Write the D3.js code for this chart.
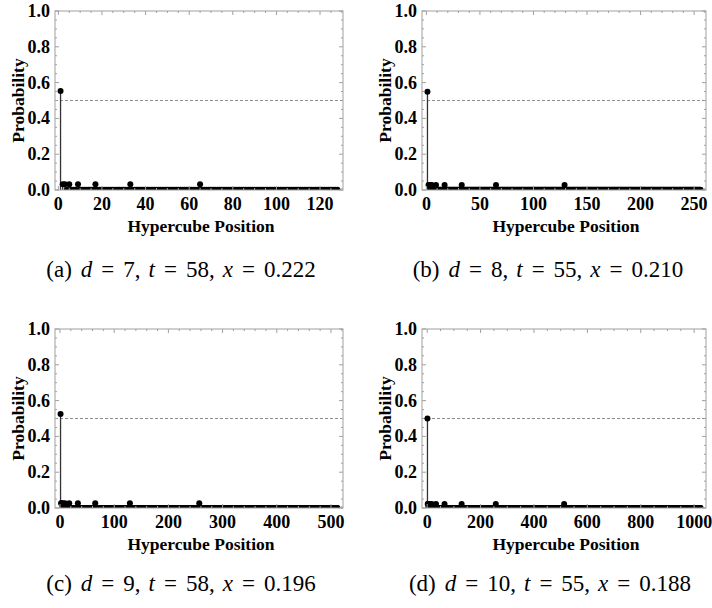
<!DOCTYPE html>
<html>
<head>
<meta charset="utf-8">
<script src="https://cdn.jsdelivr.net/npm/d3@7"></script>
<style>
  body { margin: 0; background: #fff; }
  svg { display: block; }
</style>
</head>
<body>
<div id="chart"></div>
<script>
// hypercube dimension for each panel
const dims = [7, 8, 9, 10];
// positions that stand out (marked vertex + its neighbours), per panel
const peakPositions = [
  [1, 2, 3, 5, 9, 17, 33, 65],
  [1, 2, 3, 5, 9, 17, 33, 65, 129],
  [1, 2, 3, 5, 9, 17, 33, 65, 129, 257],
  [1, 2, 3, 5, 9, 17, 33, 65, 129, 257, 513]
];
const peakValues = [
  [0.553, 0.032, 0.032, 0.032, 0.032, 0.032, 0.032, 0.032],
  [0.549, 0.028, 0.028, 0.028, 0.028, 0.028, 0.028, 0.028, 0.028],
  [0.525, 0.026, 0.026, 0.026, 0.026, 0.026, 0.026, 0.026, 0.026, 0.026],
  [0.500, 0.022, 0.022, 0.022, 0.022, 0.022, 0.022, 0.022, 0.022, 0.022, 0.022]
];
// probability of all other positions (read as almost zero)
const floorValues = [0.002, 0.001, 0.0006, 0.0003];
const xTickStep = [20, 50, 100, 200];
const xMinorStep = [5, 10, 20, 50];
const yTicks = [0, 0.2, 0.4, 0.6, 0.8, 1.0];
const captionLetters = ["a", "b", "c", "d"];
const captionT = [58, 55, 58, 55];
const captionX = ["0.222", "0.210", "0.196", "0.188"];

const width = 712, height = 608;
// frame box of every panel
const frames = [
  {x0: 55, x1: 343, y0: 11, y1: 190},
  {x0: 422, x1: 706, y0: 11, y1: 190},
  {x0: 55, x1: 343, y0: 329, y1: 508},
  {x0: 422, x1: 706, y0: 329, y1: 508}
];
const captionCenters = [181, 548, 181, 550];
const captionBase = [277, 277, 591, 591];

const svg = d3.select("#chart")
  .append("svg")
  .attr("width", width)
  .attr("height", height);

const labelFont = "'Liberation Serif', 'Times New Roman', serif";
const frameColor = "#a0a0a0";

dims.forEach((d, k) => {
  const f = frames[k];
  const n = Math.pow(2, d);
  const pad = 0.02 * (n - 1);

  const x = d3.scaleLinear().domain([1 - pad, n + pad]).range([f.x0, f.x1]);
  const y = d3.scaleLinear().domain([0, 1]).range([f.y1, f.y0]);

  const g = svg.append("g");

  // clip so the near-zero dots get cut by the frame like in mathematica
  g.append("clipPath").attr("id", "clip" + k)
    .append("rect")
    .attr("x", f.x0).attr("y", f.y0)
    .attr("width", f.x1 - f.x0).attr("height", f.y1 - f.y0);

  // dashed line at one half
  g.append("line")
    .attr("x1", f.x0).attr("x2", f.x1)
    .attr("y1", y(0.5)).attr("y2", y(0.5))
    .attr("stroke", "#8c8c8c")
    .attr("stroke-width", 1)
    .attr("stroke-dasharray", "3,2");

  // build the full list of points
  const pts = d3.range(1, n + 1).map(p => {
    const i = peakPositions[k].indexOf(p);
    return {pos: p, prob: i >= 0 ? peakValues[k][i] : floorValues[k]};
  });

  const plot = g.append("g").attr("clip-path", `url(#clip${k})`);

  plot.selectAll(".stem")
    .data(pts)
    .enter()
    .append("line")
    .attr("class", "stem")
    .attr("x1", p => x(p.pos)).attr("x2", p => x(p.pos))
    .attr("y1", y(0)).attr("y2", p => y(p.prob))
    .attr("stroke", "#333")
    .attr("stroke-width", 1.3);

  plot.selectAll(".dot")
    .data(pts)
    .enter()
    .append("circle")
    .attr("class", "dot")
    .attr("cx", p => x(p.pos))
    .attr("cy", p => y(p.prob))
    .attr("r", 3)
    .attr("fill", "#000");

  // frame ticks, inward, on all four sides
  const xMajor = d3.range(0, n + 1, xTickStep[k]);
  const xMinor = d3.range(0, n + pad, xMinorStep[k]).filter(v => x(v) >= f.x0);
  const yMinor = d3.range(0, 1.0001, 0.05);

  const tickG = g.append("g").attr("stroke", frameColor).attr("stroke-width", 1);
  xMinor.forEach(v => {
    const major = xMajor.includes(v);
    const len = major ? 4 : 2;
    tickG.append("line").attr("x1", x(v)).attr("x2", x(v)).attr("y1", f.y1).attr("y2", f.y1 - len);
    tickG.append("line").attr("x1", x(v)).attr("x2", x(v)).attr("y1", f.y0).attr("y2", f.y0 + len);
  });
  yMinor.forEach(v => {
    const major = Math.abs(v * 5 - Math.round(v * 5)) < 1e-6;
    const len = major ? 4 : 2;
    tickG.append("line").attr("x1", f.x0).attr("x2", f.x0 + len).attr("y1", y(v)).attr("y2", y(v));
    tickG.append("line").attr("x1", f.x1).attr("x2", f.x1 - len).attr("y1", y(v)).attr("y2", y(v));
  });

  // frame box
  g.append("rect")
    .attr("x", f.x0).attr("y", f.y0)
    .attr("width", f.x1 - f.x0).attr("height", f.y1 - f.y0)
    .attr("fill", "none")
    .attr("stroke", frameColor)
    .attr("stroke-width", 1);

  // tick labels
  g.selectAll(".xlab")
    .data(xMajor)
    .enter()
    .append("text")
    .attr("x", v => x(v))
    .attr("y", f.y1 + 20)
    .attr("text-anchor", "middle")
    .attr("font-family", labelFont)
    .attr("font-weight", "bold")
    .attr("font-size", "18px")
    .text(v => v);

  g.selectAll(".ylab")
    .data(yTicks)
    .enter()
    .append("text")
    .attr("x", f.x0 - 5)
    .attr("y", v => y(v) + 6)
    .attr("text-anchor", "end")
    .attr("font-family", labelFont)
    .attr("font-weight", "bold")
    .attr("font-size", "18px")
    .text(v => v.toFixed(1));

  // axis titles
  g.append("text")
    .attr("x", (f.x0 + f.x1) / 2 + 2)
    .attr("y", f.y1 + 42)
    .attr("text-anchor", "middle")
    .attr("font-family", labelFont)
    .attr("font-weight", "bold")
    .attr("font-size", "17.5px")
    .text("Hypercube Position");

  g.append("text")
    .attr("transform", `translate(${f.x0 - 31},${(f.y0 + f.y1) / 2}) rotate(-90)`)
    .attr("text-anchor", "middle")
    .attr("font-family", labelFont)
    .attr("font-weight", "bold")
    .attr("font-size", "17.5px")
    .text("Probability");

  // caption under the panel, latex-like spacing around "="
  const parts = [
    {t: `(${captionLetters[k]})`, dx: 0},
    {t: "d", dx: 9, it: true},
    {t: "=", dx: 9},
    {t: `${d},`, dx: 9},
    {t: "t", dx: 8, it: true},
    {t: "=", dx: 9},
    {t: `${captionT[k]},`, dx: 9},
    {t: "x", dx: 8, it: true},
    {t: "=", dx: 9},
    {t: captionX[k], dx: 9}
  ];
  const cap = svg.append("text")
    .attr("x", captionCenters[k])
    .attr("y", captionBase[k])
    .attr("text-anchor", "middle")
    .attr("font-family", labelFont)
    .attr("font-size", "23px");
  cap.selectAll("tspan")
    .data(parts)
    .enter()
    .append("tspan")
    .attr("dx", p => p.dx)
    .attr("font-style", p => p.it ? "italic" : "normal")
    .text(p => p.t);
});
</script>
</body>
</html>
